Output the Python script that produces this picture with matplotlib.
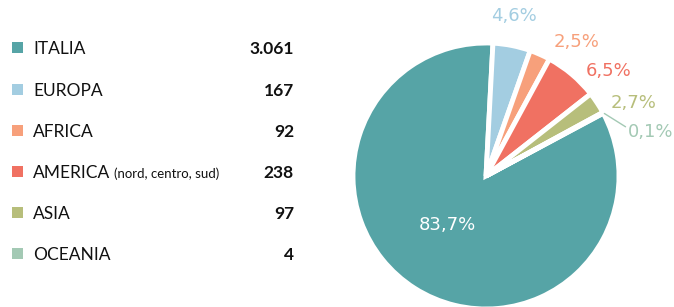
import matplotlib
matplotlib.use("Agg")
import matplotlib.pyplot as plt

# data
regions = ["ITALIA", "EUROPA", "AFRICA", "AMERICA", "ASIA", "OCEANIA"]
region_notes = ["", "", "", "(nord, centro, sud)", "", ""]
counts = [3061, 167, 92, 238, 97, 4]
count_labels = ["3.061", "167", "92", "238", "97", "4"]
pct_labels = ["83,7%", "4,6%", "2,5%", "6,5%", "2,7%", "0,1%"]
colors = ["#56a4a6", "#a3cde1", "#f7a07b", "#f07162", "#b7be7b", "#a3c9b4"]

# where the percentage labels sit (pie units, radius = 1)
label_pos = [(-0.29, -0.37), (0.21, 1.20), (0.68, 1.01), (0.92, 0.79), (1.11, 0.55), (1.07, 0.33)]

W, H = 674, 307
fig = plt.figure(figsize=(W / 100, H / 100), dpi=100)
fig.patch.set_facecolor("white")

# legend part
lax = fig.add_axes([0, 0, 1, 1])
lax.set_xlim(0, W)
lax.set_ylim(H, 0)
lax.axis("off")

row_y = [47, 89, 130, 171, 212, 253]
name_texts = []
for i, name in enumerate(regions):
    y = row_y[i]
    lax.add_patch(plt.Rectangle((12, y - 5.5), 11, 11, color=colors[i], lw=0))
    t = lax.text(33, y + 7, name, fontsize=12.5, family="Lato", va="baseline", ha="left", color="#111111")
    name_texts.append(t)
    lax.text(294, y + 7, count_labels[i], fontsize=12.5, family="Lato", weight="bold",
             va="baseline", ha="right", color="#111111")

fig.canvas.draw()
rend = fig.canvas.get_renderer()
for i, note in enumerate(region_notes):
    if note:
        bb = name_texts[i].get_window_extent(rend)
        x_end = lax.transData.inverted().transform((bb.x1, bb.y0))[0]
        lax.text(x_end + 4, row_y[i] + 7, note, fontsize=9.5, family="Lato",
                 va="baseline", ha="left", color="#111111")

# pie part
cx, cy, r = 486, 176, 133
pax = fig.add_axes([(cx - r) / W, (H - cy - r) / H, 2 * r / W, 2 * r / H])
total = sum(counts)
start = 87 + 360 * counts[0] / total
pax.pie(counts, colors=colors, startangle=start, counterclock=False, radius=1,
        wedgeprops=dict(edgecolor="white", linewidth=3.5))
pax.set_xlim(-1, 1)
pax.set_ylim(-1, 1)
pax.set_aspect("equal")
pax.axis("off")

for i, lab in enumerate(pct_labels):
    x, y = label_pos[i]
    if i == 0:
        pax.text(x, y, lab, color="white", fontsize=13, family="DejaVu Sans", ha="center", va="center", clip_on=False)
    elif i == len(pct_labels) - 1:
        pax.annotate(lab, xy=(0.89, 0.47), xytext=(x, y), color=colors[i], fontsize=13,
                     family="DejaVu Sans", ha="left", va="center", annotation_clip=False,
                     arrowprops=dict(arrowstyle="-", color=colors[i], lw=1,
                                     shrinkA=0, shrinkB=0, relpos=(0, 0.7)))
    else:
        pax.text(x, y, lab, color=colors[i], fontsize=13, family="DejaVu Sans", ha="center", va="center", clip_on=False)

fig.savefig("out.png", dpi=100)
